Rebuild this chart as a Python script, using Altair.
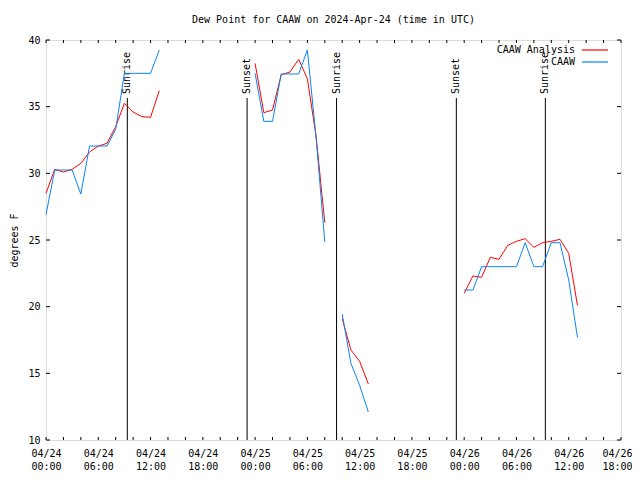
import altair as alt
import pandas as pd

# ---- data (hours after 2024-04-24 00:00 UTC) ----
seg1_hours = [0, 1, 2, 3, 4, 5, 6, 7, 8, 9, 10, 11, 12, 13]
seg1_analysis = [28.5, 30.3, 30.1, 30.3, 30.75, 31.6, 32.05, 32.25, 33.5, 35.25, 34.6, 34.25, 34.2, 36.2]
seg1_obs = [26.9, 30.25, 30.25, 30.25, 28.45, 32.05, 32.05, 32.05, 33.3, 37.5, 37.5, 37.5, 37.5, 39.25]

seg2_hours = [24, 25, 26, 27, 28, 29, 30, 31, 32]
seg2_analysis = [38.25, 34.55, 34.75, 37.4, 37.6, 38.55, 37.1, 32.8, 26.3]
seg2_obs = [37.5, 33.9, 33.9, 37.45, 37.45, 37.45, 39.25, 32.7, 24.85]

seg3_hours = [34, 35, 36, 37]
seg3_analysis = [19.1, 16.75, 15.9, 14.2]
seg3_obs = [19.45, 15.75, 14.1, 12.1]

seg4_hours = [48, 49, 50, 51, 52, 53, 54, 55, 56, 57, 58, 59, 60, 61]
seg4_analysis = [21.0, 22.3, 22.2, 23.7, 23.55, 24.6, 24.9, 25.1, 24.45, 24.8, 24.9, 25.05, 24.0, 20.1]
seg4_obs = [21.25, 21.25, 23.0, 23.0, 23.0, 23.0, 23.0, 24.8, 23.0, 23.0, 24.8, 24.8, 22.0, 17.7]

sun_times = ["2024-04-24T09:20:00Z", "2024-04-24T23:05:00Z", "2024-04-25T09:21:00Z",
             "2024-04-25T23:06:00Z", "2024-04-26T09:19:00Z"]
sun_labels = ["Sunrise", "Sunset", "Sunrise", "Sunset", "Sunrise"]

series_names = ["CAAW Analysis", "CAAW"]
series_colors = ["#ff0000", "#0a84f0"]

y_ticks = [10, 15, 20, 25, 30, 35, 40]
x_tick_hours = list(range(0, 67, 2))
x_label_hours = list(range(0, 67, 6))

TITLE = "Dew Point for CAAW on 2024-Apr-24 (time in UTC)"
FONT = "DejaVu Sans Mono"

START = pd.Timestamp("2024-04-24T00:00:00Z")


def ts(h):
    return (START + pd.Timedelta(hours=h)).strftime("%Y-%m-%dT%H:%M:%SZ")


def dt(h):
    t = START + pd.Timedelta(hours=h)
    return alt.DateTime(year=t.year, month=t.month, date=t.day, hours=t.hour, utc=True)


rows = []
segs = [(seg1_hours, seg1_analysis, seg1_obs), (seg2_hours, seg2_analysis, seg2_obs),
        (seg3_hours, seg3_analysis, seg3_obs), (seg4_hours, seg4_analysis, seg4_obs)]
for i, (hs, a, o) in enumerate(segs):
    for h, va, vo in zip(hs, a, o):
        rows.append({"time": ts(h), "value": va, "series": series_names[0], "seg": i})
        rows.append({"time": ts(h), "value": vo, "series": series_names[1], "seg": i})
df = pd.DataFrame(rows)

sun_df = pd.DataFrame({"time": sun_times, "label": sun_labels})
xt_df = pd.DataFrame({"time": [ts(h) for h in x_tick_hours]})
yt_df = pd.DataFrame({"v": y_ticks, "t0": ts(0), "t1": ts(66)})

xscale = alt.Scale(type="utc", domain=[dt(0), dt(66)])
yscale = alt.Scale(domain=[10, 40], nice=False, zero=False)

last_ms = int((START + pd.Timedelta(hours=65)).value // 10**6)

x_axis = alt.Axis(
    values=[dt(h) for h in x_label_hours],
    labelExpr="[utcFormat(datum.value, '%m/%d'), utcFormat(datum.value, '%H:%M')]",
    title=None, ticks=False, domain=False, grid=False,
    labelFont=FONT, labelFontSize=10, labelColor="black", labelPadding=8,
    labelLineHeight=13, labelOverlap=False, labelBound=False, labelFlush=False,
    labelBaseline="top",
    labelOffset={"condition": {"test": f"datum.value > {last_ms}", "value": -4}, "value": 0},
)
y_axis = alt.Axis(
    values=y_ticks, title="degrees F", ticks=False, domain=False, grid=False,
    labelFont=FONT, labelFontSize=10, labelColor="black", labelPadding=6,
    titleFont=FONT, titleFontSize=10, titleFontWeight="normal", titleColor="black",
    titleAngle=270, titleX=-32, titleY=200, titleAlign="center", titleBaseline="middle",
)

lines = alt.Chart(df).mark_line(strokeWidth=1, interpolate="linear").encode(
    x=alt.X("time:T", scale=xscale, axis=x_axis),
    y=alt.Y("value:Q", scale=yscale, axis=y_axis),
    color=alt.Color("series:N", scale=alt.Scale(domain=series_names, range=series_colors),
                    legend=alt.Legend(
                        title=None, orient="none", legendX=519, legendY=5,
                        symbolType="M12,0H38", symbolSize=4, symbolStrokeWidth=1.2,
                        labelFont=FONT, labelFontSize=10, labelColor="black",
                        labelAlign="right", labelOffset=0, rowPadding=2, padding=0,
                    )),
    detail="seg:N",
)

sun_rules = alt.Chart(sun_df).mark_rule(color="black", strokeWidth=1).encode(
    x=alt.X("time:T", scale=xscale),
    y=alt.datum(10),
    y2=alt.datum(35.65),
)
sun_text = alt.Chart(sun_df).mark_text(
    angle=270, align="left", baseline="middle", font=FONT, fontSize=10, color="black"
).encode(
    x=alt.X("time:T", scale=xscale),
    y=alt.datum(35.95),
    text="label:N",
)

tick_bottom = alt.Chart(xt_df).mark_rule(color="black", y2Offset=-3).encode(
    x=alt.X("time:T", scale=xscale), y=alt.datum(10), y2=alt.datum(10))
tick_top = alt.Chart(xt_df).mark_rule(color="black", y2Offset=3).encode(
    x=alt.X("time:T", scale=xscale), y=alt.datum(40), y2=alt.datum(40))
tick_left = alt.Chart(yt_df).mark_rule(color="black", x2Offset=4).encode(
    x=alt.X("t0:T", scale=xscale), x2="t0:T", y=alt.Y("v:Q", scale=yscale))
tick_right = alt.Chart(yt_df).mark_rule(color="black", x2Offset=-4).encode(
    x=alt.X("t1:T", scale=xscale), x2="t1:T", y=alt.Y("v:Q", scale=yscale))

chart = alt.layer(
    tick_bottom, tick_top, tick_left, tick_right, sun_rules, sun_text, lines
).properties(
    width=575, height=400,
    title=alt.TitleParams(TITLE, font=FONT, fontSize=10, fontWeight="normal", color="black",
                          anchor="middle", offset=10),
    autosize=alt.AutoSizeParams(type="none"),
    padding={"left": 38, "top": 32, "right": 11, "bottom": 32},
).configure_view(
    stroke="black", strokeWidth=1
).configure(
    background="white"
)

chart.save("out.html", embed_options={"renderer": "svg", "actions": False})
